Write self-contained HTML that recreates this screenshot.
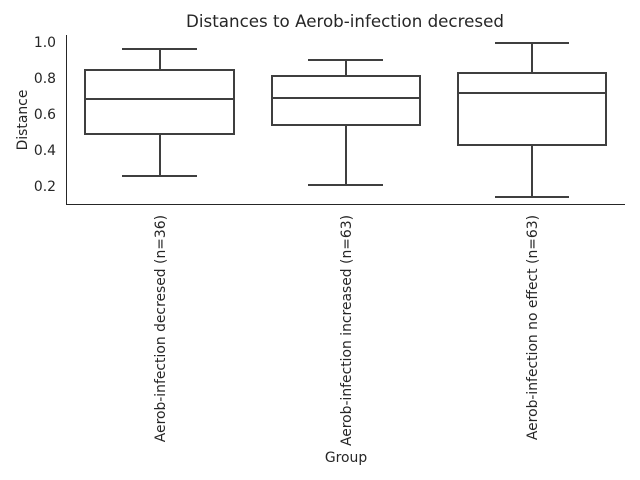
<!DOCTYPE html>
<html><head><meta charset="utf-8"><style>
html,body{margin:0;padding:0;background:#fff;}
svg{display:block;}
text{font-family:"DejaVu Sans","Liberation Sans",sans-serif;fill:#262626;}
</style></head><body>
<svg width="640" height="480" viewBox="0 0 640 480" xmlns="http://www.w3.org/2000/svg">
<text x="345" y="27" font-size="16.7" text-anchor="middle">Distances to Aerob-infection decresed</text>
<g stroke="#262626" stroke-width="1" fill="none">
<line x1="66.5" y1="35" x2="66.5" y2="204.5"/>
<line x1="66" y1="204.5" x2="625" y2="204.5"/>
</g>
<g font-size="13.9" text-anchor="end">
<text x="56" y="47">1.0</text>
<text x="56" y="83">0.8</text>
<text x="56" y="119">0.6</text>
<text x="56" y="155">0.4</text>
<text x="56" y="191">0.2</text>
</g>
<text transform="translate(27,120) rotate(-90)" font-size="13.9" text-anchor="middle">Distance</text>
<g stroke="#3f3f3f" stroke-width="2" fill="none">
<line x1="160" y1="49" x2="160" y2="70"/><line x1="160" y1="134" x2="160" y2="176"/>
<line x1="122" y1="49" x2="197" y2="49"/><line x1="122" y1="176" x2="197" y2="176"/>
<rect x="85" y="70" width="149" height="64"/><line x1="85" y1="99" x2="234" y2="99"/>
<line x1="346" y1="60" x2="346" y2="76"/><line x1="346" y1="125" x2="346" y2="185"/>
<line x1="308" y1="60" x2="383" y2="60"/><line x1="308" y1="185" x2="383" y2="185"/>
<rect x="272" y="76" width="148" height="49"/><line x1="272" y1="98" x2="420" y2="98"/>
<line x1="532" y1="43" x2="532" y2="73"/><line x1="532" y1="145" x2="532" y2="197"/>
<line x1="495" y1="43" x2="569" y2="43"/><line x1="495" y1="197" x2="569" y2="197"/>
<rect x="458" y="73" width="148" height="72"/><line x1="458" y1="93" x2="606" y2="93"/>
</g>
<g font-size="13.9" text-anchor="end">
<text transform="translate(165,215) rotate(-90)">Aerob-infection decresed (n=36)</text>
<text transform="translate(351,215) rotate(-90)">Aerob-infection increased (n=63)</text>
<text transform="translate(537,215) rotate(-90)">Aerob-infection no effect (n=63)</text>
</g>
<text x="346" y="462" font-size="13.9" text-anchor="middle">Group</text>
</svg>
</body></html>
